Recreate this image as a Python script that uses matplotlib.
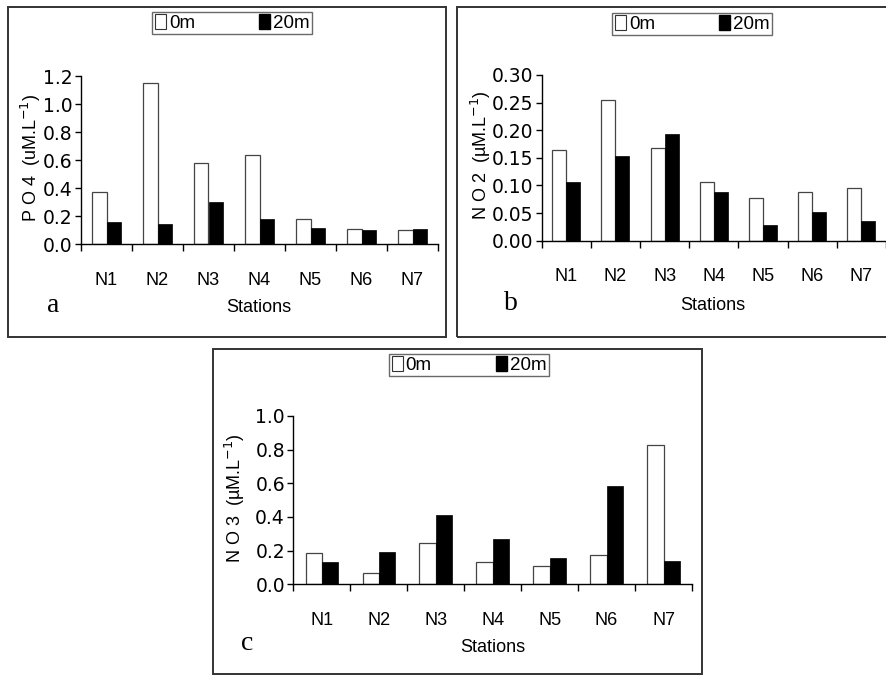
import numpy as np
import matplotlib
matplotlib.use("Agg")
import matplotlib.pyplot as plt
from matplotlib.patches import Rectangle, Patch

stations = ['N1', 'N2', 'N3', 'N4', 'N5', 'N6', 'N7']
depths = ['0m', '20m']

po4_0m = [0.375, 1.15, 0.58, 0.635, 0.178, 0.107, 0.097]
po4_20m = [0.154, 0.145, 0.30, 0.18, 0.116, 0.10, 0.109]

no2_0m = [0.164, 0.255, 0.167, 0.106, 0.078, 0.088, 0.096]
no2_20m = [0.106, 0.154, 0.194, 0.088, 0.029, 0.052, 0.036]

no3_0m = [0.188, 0.069, 0.248, 0.131, 0.109, 0.174, 0.828]
no3_20m = [0.133, 0.192, 0.412, 0.271, 0.154, 0.586, 0.139]

W, H = 886, 675
fig = plt.figure(figsize=(W / 100, H / 100), dpi=100)
plt.rcParams['font.family'] = ['Liberation Sans', 'DejaVu Sans']


def px_rect(x0, y0, x1, y1):
    # pixel box (top-left origin) -> figure fraction [left, bottom, w, h]
    return [x0 / W, 1 - y1 / H, (x1 - x0) / W, (y1 - y0) / H]


def frame(x0, y0, x1, y1):
    l, b, w, h = px_rect(x0, y0, x1, y1)
    fig.patches.append(Rectangle((l, b), w, h, transform=fig.transFigure,
                                 fill=False, edgecolor='#333333', linewidth=1.4))


def panel(axbox, v0, v20, ymax, yticks, yfmt, ylabel, letter, letter_xy,
          stat_xy, ylab_xy, leg_xy):
    ax = fig.add_axes(px_rect(*axbox))
    x = np.arange(len(stations))
    bw = 0.285
    ax.bar(x - bw / 2, v0, bw, color='white', edgecolor='#444444', linewidth=0.9)
    ax.bar(x + bw / 2, v20, bw, color='black', edgecolor='black', linewidth=0.5)
    ax.set_xlim(-0.5, len(stations) - 0.5)
    ax.set_ylim(0, ymax)
    ax.set_yticks(yticks)
    ax.set_yticklabels([yfmt.format(t) for t in yticks], fontsize=13.5,
                       family='DejaVu Sans')
    ax.set_xticks(x)
    ax.set_xticklabels(stations, fontsize=13)
    ax.set_xticks(np.arange(len(stations) + 1) - 0.5, minor=True)
    ax.tick_params(axis='x', which='major', length=0, pad=20)
    ax.tick_params(axis='x', which='minor', length=5, width=1, direction='out')
    ax.tick_params(axis='y', length=4, width=1, direction='out', pad=2)
    for s in ['top', 'right']:
        ax.spines[s].set_visible(False)
    for s in ['left', 'bottom']:
        ax.spines[s].set_linewidth(1)
    ax.set_facecolor('none')

    fig.text(letter_xy[0] / W, 1 - letter_xy[1] / H, letter, family='Liberation Serif',
             fontsize=20, ha='center', va='center')
    fig.text(stat_xy[0] / W, 1 - stat_xy[1] / H, 'Stations', fontsize=13,
             ha='center', va='center')
    fig.text(ylab_xy[0] / W, 1 - ylab_xy[1] / H, ylabel, fontsize=13,
             rotation=90, ha='center', va='center')

    handles = [Patch(facecolor='white', edgecolor='#333333', linewidth=0.8),
               Patch(facecolor='black', edgecolor='black')]
    leg = fig.legend(handles, depths, loc='center',
                     bbox_to_anchor=(leg_xy[0] / W, 1 - leg_xy[1] / H),
                     ncol=2, frameon=True, fancybox=False, fontsize=13.5,
                     handlelength=0.6, handleheight=0.8, handletextpad=0.15,
                     columnspacing=3.4, borderpad=0.12, borderaxespad=0)
    leg.get_frame().set_edgecolor('#444444')
    leg.get_frame().set_linewidth(1.0)


# outer boxes
frame(8, 7, 446, 337)
frame(457, 7, 900, 337)
frame(213, 349, 702, 674)

panel((81, 76, 438, 244), po4_0m, po4_20m, 1.2,
      [0, 0.2, 0.4, 0.6, 0.8, 1.0, 1.2], '{:.1f}',
      r'P O 4  (uM.L$^{-1}$)', 'a', (53, 305), (259, 308), (31, 158), (232, 23))

panel((541.7, 75, 886, 240.7), no2_0m, no2_20m, 0.30,
      [0, 0.05, 0.10, 0.15, 0.20, 0.25, 0.30], '{:.2f}',
      r'N O 2  (µM.L$^{-1}$)', 'b', (511, 303), (713, 305), (481, 155), (692, 24))

panel((293.3, 416, 692, 584.3), no3_0m, no3_20m, 1.0,
      [0, 0.2, 0.4, 0.6, 0.8, 1.0], '{:.1f}',
      r'N O 3  (µM.L$^{-1}$)', 'c', (247, 643), (493, 648), (235, 498), (469, 365))

fig.savefig('out.png', dpi=100)
